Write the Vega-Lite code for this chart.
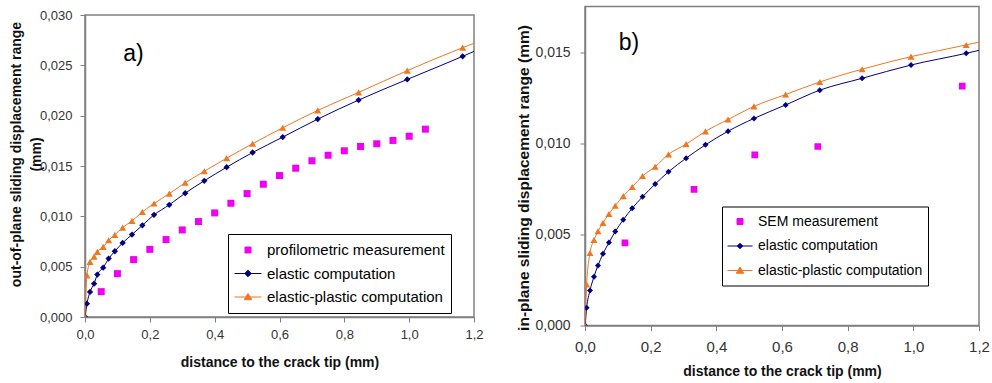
{
  "$schema": "https://vega.github.io/schema/vega-lite/v6.json",
  "background": "white",
  "padding": {"left": 8, "top": 5.5, "right": 3, "bottom": 5},
  "spacing": 111,
  "bounds": "flush",
  "center": true,
  "config": {
    "font": "Liberation Sans",
    "view": {"stroke": "#808080", "strokeWidth": 1.5},
    "axis": {
      "grid": false,
      "domainColor": "#808080",
      "domainWidth": 1.5,
      "tickColor": "#808080",
      "tickSize": 5,
      "labelColor": "#333333",
      "titleColor": "#111111",
      "labelFont": "Liberation Sans",
      "titleFont": "Liberation Sans",
      "labelFlush": false,
      "labelOverlap": false
    }
  },
  "resolve": {
    "scale": {"color": "independent"},
    "legend": {"color": "independent"}
  },
  "hconcat": [
    {
      "width": 389,
      "height": 302,
      "data": {
        "values": [
          {"series": "profilometric measurement", "x": 0.05, "y": 0.00252},
          {"series": "profilometric measurement", "x": 0.1, "y": 0.00431},
          {"series": "profilometric measurement", "x": 0.15, "y": 0.0057},
          {"series": "profilometric measurement", "x": 0.2, "y": 0.00672},
          {"series": "profilometric measurement", "x": 0.25, "y": 0.00769},
          {"series": "profilometric measurement", "x": 0.3, "y": 0.00865},
          {"series": "profilometric measurement", "x": 0.35, "y": 0.00948},
          {"series": "profilometric measurement", "x": 0.4, "y": 0.01034},
          {"series": "profilometric measurement", "x": 0.45, "y": 0.0113},
          {"series": "profilometric measurement", "x": 0.5, "y": 0.01226},
          {"series": "profilometric measurement", "x": 0.55, "y": 0.01319},
          {"series": "profilometric measurement", "x": 0.6, "y": 0.01405},
          {"series": "profilometric measurement", "x": 0.65, "y": 0.01478},
          {"series": "profilometric measurement", "x": 0.7, "y": 0.01552},
          {"series": "profilometric measurement", "x": 0.75, "y": 0.01607},
          {"series": "profilometric measurement", "x": 0.8, "y": 0.01651},
          {"series": "profilometric measurement", "x": 0.85, "y": 0.01694},
          {"series": "profilometric measurement", "x": 0.9, "y": 0.01721},
          {"series": "profilometric measurement", "x": 0.95, "y": 0.01754},
          {"series": "profilometric measurement", "x": 1.0, "y": 0.01796},
          {"series": "profilometric measurement", "x": 1.05, "y": 0.01866},
          {"series": "elastic computation", "x": 0, "y": 0},
          {"series": "elastic computation", "x": 0.006, "y": 0.00132},
          {"series": "elastic computation", "x": 0.0155, "y": 0.00249},
          {"series": "elastic computation", "x": 0.028, "y": 0.00331},
          {"series": "elastic computation", "x": 0.038, "y": 0.00421},
          {"series": "elastic computation", "x": 0.056, "y": 0.0049},
          {"series": "elastic computation", "x": 0.073, "y": 0.0058},
          {"series": "elastic computation", "x": 0.092, "y": 0.00653},
          {"series": "elastic computation", "x": 0.116, "y": 0.00736},
          {"series": "elastic computation", "x": 0.145, "y": 0.00819},
          {"series": "elastic computation", "x": 0.177, "y": 0.00911},
          {"series": "elastic computation", "x": 0.213, "y": 0.01015},
          {"series": "elastic computation", "x": 0.26, "y": 0.01114},
          {"series": "elastic computation", "x": 0.309, "y": 0.0123},
          {"series": "elastic computation", "x": 0.368, "y": 0.01353},
          {"series": "elastic computation", "x": 0.437, "y": 0.01488},
          {"series": "elastic computation", "x": 0.517, "y": 0.01634},
          {"series": "elastic computation", "x": 0.61, "y": 0.01787},
          {"series": "elastic computation", "x": 0.718, "y": 0.01966},
          {"series": "elastic computation", "x": 0.844, "y": 0.02155},
          {"series": "elastic computation", "x": 0.994, "y": 0.0236},
          {"series": "elastic computation", "x": 1.165, "y": 0.02589},
          {"series": "elastic computation", "x": 1.36, "y": 0.0287},
          {"series": "elastic-plastic computation", "x": 0, "y": 0},
          {"series": "elastic-plastic computation", "x": 0.006, "y": 0.00414},
          {"series": "elastic-plastic computation", "x": 0.0155, "y": 0.00547},
          {"series": "elastic-plastic computation", "x": 0.028, "y": 0.006},
          {"series": "elastic-plastic computation", "x": 0.038, "y": 0.00647},
          {"series": "elastic-plastic computation", "x": 0.056, "y": 0.00696},
          {"series": "elastic-plastic computation", "x": 0.073, "y": 0.00762},
          {"series": "elastic-plastic computation", "x": 0.092, "y": 0.00816},
          {"series": "elastic-plastic computation", "x": 0.116, "y": 0.00888},
          {"series": "elastic-plastic computation", "x": 0.145, "y": 0.00955},
          {"series": "elastic-plastic computation", "x": 0.177, "y": 0.01044},
          {"series": "elastic-plastic computation", "x": 0.213, "y": 0.01127},
          {"series": "elastic-plastic computation", "x": 0.26, "y": 0.01226},
          {"series": "elastic-plastic computation", "x": 0.309, "y": 0.01333},
          {"series": "elastic-plastic computation", "x": 0.368, "y": 0.01448},
          {"series": "elastic-plastic computation", "x": 0.437, "y": 0.01578},
          {"series": "elastic-plastic computation", "x": 0.517, "y": 0.01721},
          {"series": "elastic-plastic computation", "x": 0.61, "y": 0.0188},
          {"series": "elastic-plastic computation", "x": 0.718, "y": 0.02052},
          {"series": "elastic-plastic computation", "x": 0.844, "y": 0.02231},
          {"series": "elastic-plastic computation", "x": 0.994, "y": 0.02447},
          {"series": "elastic-plastic computation", "x": 1.165, "y": 0.02676},
          {"series": "elastic-plastic computation", "x": 1.36, "y": 0.0291}
        ]
      },
      "encoding": {
        "x": {
          "field": "x", "type": "quantitative",
          "scale": {"domain": [0, 1.2], "nice": false},
          "axis": {
            "values": [0, 0.2, 0.4, 0.6, 0.8, 1.0, 1.2],
            "labelExpr": "replace(format(datum.value, '.1f'), '.', ',')",
            "title": "distance to the crack tip (mm)",
            "titleFontSize": 14, "titleFontWeight": "bold",
            "labelFontSize": 13, "labelPadding": 6, "titlePadding": 14
          }
        },
        "y": {
          "field": "y", "type": "quantitative",
          "scale": {"domain": [0, 0.03], "nice": false},
          "axis": {
            "values": [0, 0.005, 0.01, 0.015, 0.02, 0.025, 0.03],
            "labelExpr": "replace(format(datum.value, '.3f'), '.', ',')",
            "title": ["out-of-plane sliding displacement range", "(mm)"],
            "titleFontSize": 14, "titleFontWeight": "bold", "titleLineHeight": 20,
            "titleAngle": 270, "titleBaseline": "bottom", "titleAlign": "center",
            "titleX": -62, "titleY": 139,
            "labelFontSize": 13, "labelPadding": 8
          }
        },
        "color": {
          "field": "series", "type": "nominal",
          "scale": {
            "domain": ["profilometric measurement", "elastic computation", "elastic-plastic computation"],
            "range": ["#f000f0", "#000080", "#ee7722"]
          },
          "legend": {
            "orient": "none", "legendX": 143, "legendY": 219,
            "title": null, "strokeColor": "black", "fillColor": "white",
            "padding": 6, "labelFontSize": 15, "labelColor": "black", "labelFont": "Liberation Sans",
            "labelLimit": 400,
            "symbolSize": 729, "clipHeight": 20, "rowPadding": 3.5, "labelOffset": 5,
            "symbolStrokeWidth": 1, "symbolOpacity": 1,
            "encode": {
              "symbols": {
                "update": {
                  "shape": {"signal": "datum.value === 'elastic computation' ? 'M-1,0H1M0,-0.24L0.24,0L0,0.24L-0.24,0Z' : datum.value === 'elastic-plastic computation' ? 'M-1,0H1M0,-0.26L0.28,0.2H-0.28Z' : 'M-0.22,-0.22H0.22V0.22H-0.22Z'"},
                  "fill": {"signal": "datum.value === 'elastic computation' ? '#000080' : datum.value === 'elastic-plastic computation' ? '#ee7722' : '#f000f0'"},
                  "stroke": {"signal": "datum.value === 'elastic computation' ? '#000080' : datum.value === 'elastic-plastic computation' ? '#ee7722' : '#f000f0'"},
                  "strokeWidth": {"value": 1},
                  "size": {"value": 729},
                  "opacity": {"value": 1}
                }
              }
            }
          }
        }
      },
      "layer": [
        {
          "transform": [{"filter": "datum.series !== 'profilometric measurement'"}],
          "mark": {"type": "line", "interpolate": "monotone", "strokeWidth": 1, "clip": true}
        },
        {
          "transform": [{"filter": "datum.series === 'profilometric measurement'"}],
          "mark": {"type": "point", "shape": "square", "size": 49, "filled": true, "opacity": 1, "clip": true}
        },
        {
          "transform": [{"filter": "datum.series === 'elastic computation'"}],
          "mark": {"type": "point", "shape": "diamond", "size": 40, "filled": true, "opacity": 1, "clip": true}
        },
        {
          "transform": [{"filter": "datum.series === 'elastic-plastic computation'"}],
          "mark": {"type": "point", "shape": "triangle-up", "size": 50, "filled": true, "opacity": 1, "clip": true}
        },
        {
          "data": {"values": [{"label": "a)", "x": 0.118, "y": 0.0254}]},
          "mark": {"type": "text", "fontSize": 23, "align": "left", "baseline": "alphabetic", "font": "Liberation Sans"},
          "encoding": {"text": {"field": "label"}, "color": {"value": "black"}}
        }
      ]
    },
    {
      "width": 394,
      "height": 319,
      "data": {
        "values": [
          {"series": "SEM measurement", "x": 0.1216, "y": 0.00453},
          {"series": "SEM measurement", "x": 0.332, "y": 0.00747},
          {"series": "SEM measurement", "x": 0.517, "y": 0.00936},
          {"series": "SEM measurement", "x": 0.709, "y": 0.00982},
          {"series": "SEM measurement", "x": 1.149, "y": 0.01313},
          {"series": "elastic computation", "x": 0, "y": 0},
          {"series": "elastic computation", "x": 0.005, "y": 0.00097},
          {"series": "elastic computation", "x": 0.0152, "y": 0.00192},
          {"series": "elastic computation", "x": 0.0274, "y": 0.00268},
          {"series": "elastic computation", "x": 0.0395, "y": 0.00329},
          {"series": "elastic computation", "x": 0.0547, "y": 0.00393},
          {"series": "elastic computation", "x": 0.073, "y": 0.00455},
          {"series": "elastic computation", "x": 0.0921, "y": 0.00515},
          {"series": "elastic computation", "x": 0.1165, "y": 0.0058},
          {"series": "elastic computation", "x": 0.1438, "y": 0.00643},
          {"series": "elastic computation", "x": 0.1753, "y": 0.00706},
          {"series": "elastic computation", "x": 0.2138, "y": 0.00776},
          {"series": "elastic computation", "x": 0.2543, "y": 0.00843},
          {"series": "elastic computation", "x": 0.308, "y": 0.00918},
          {"series": "elastic computation", "x": 0.3668, "y": 0.00991},
          {"series": "elastic computation", "x": 0.4357, "y": 0.01066},
          {"series": "elastic computation", "x": 0.5147, "y": 0.01136},
          {"series": "elastic computation", "x": 0.611, "y": 0.0121},
          {"series": "elastic computation", "x": 0.715, "y": 0.01291},
          {"series": "elastic computation", "x": 0.844, "y": 0.01356},
          {"series": "elastic computation", "x": 0.993, "y": 0.01429},
          {"series": "elastic computation", "x": 1.161, "y": 0.01493},
          {"series": "elastic computation", "x": 1.36, "y": 0.0158},
          {"series": "elastic-plastic computation", "x": 0, "y": 0},
          {"series": "elastic-plastic computation", "x": 0.005, "y": 0.00225},
          {"series": "elastic-plastic computation", "x": 0.0152, "y": 0.00398},
          {"series": "elastic-plastic computation", "x": 0.0274, "y": 0.00469},
          {"series": "elastic-plastic computation", "x": 0.0395, "y": 0.00517},
          {"series": "elastic-plastic computation", "x": 0.0547, "y": 0.00562},
          {"series": "elastic-plastic computation", "x": 0.073, "y": 0.00612},
          {"series": "elastic-plastic computation", "x": 0.0921, "y": 0.00657},
          {"series": "elastic-plastic computation", "x": 0.1165, "y": 0.0071},
          {"series": "elastic-plastic computation", "x": 0.1438, "y": 0.0076},
          {"series": "elastic-plastic computation", "x": 0.1753, "y": 0.0082},
          {"series": "elastic-plastic computation", "x": 0.2138, "y": 0.00871},
          {"series": "elastic-plastic computation", "x": 0.2543, "y": 0.00939},
          {"series": "elastic-plastic computation", "x": 0.308, "y": 0.00995},
          {"series": "elastic-plastic computation", "x": 0.3668, "y": 0.01065},
          {"series": "elastic-plastic computation", "x": 0.4357, "y": 0.0113},
          {"series": "elastic-plastic computation", "x": 0.5147, "y": 0.01202},
          {"series": "elastic-plastic computation", "x": 0.611, "y": 0.01267},
          {"series": "elastic-plastic computation", "x": 0.715, "y": 0.01336},
          {"series": "elastic-plastic computation", "x": 0.844, "y": 0.01406},
          {"series": "elastic-plastic computation", "x": 0.993, "y": 0.01475},
          {"series": "elastic-plastic computation", "x": 1.161, "y": 0.01539},
          {"series": "elastic-plastic computation", "x": 1.36, "y": 0.0162}
        ]
      },
      "encoding": {
        "x": {
          "field": "x", "type": "quantitative",
          "scale": {"domain": [0, 1.2], "nice": false},
          "axis": {
            "values": [0, 0.2, 0.4, 0.6, 0.8, 1.0, 1.2],
            "labelExpr": "replace(format(datum.value, '.1f'), '.', ',')",
            "title": "distance to the crack tip (mm)",
            "titleFontSize": 14, "titleFontWeight": "bold",
            "labelFontSize": 15, "labelPadding": 9, "titlePadding": 10
          }
        },
        "y": {
          "field": "y", "type": "quantitative",
          "scale": {"domain": [0, 0.0175], "nice": false},
          "axis": {
            "values": [0, 0.005, 0.01, 0.015],
            "labelExpr": "replace(format(datum.value, '.3f'), '.', ',')",
            "title": "in-plane sliding displacement range (mm)",
            "titleFontSize": 15.5, "titleFontWeight": "bold",
            "titleAngle": 270, "titleBaseline": "bottom", "titleAlign": "center",
            "titleX": -54, "titleY": 171,
            "labelFontSize": 14, "labelPadding": 10
          }
        },
        "color": {
          "field": "series", "type": "nominal",
          "scale": {
            "domain": ["SEM measurement", "elastic computation", "elastic-plastic computation"],
            "range": ["#f000f0", "#000080", "#ee7722"]
          },
          "legend": {
            "orient": "none", "legendX": 137, "legendY": 200,
            "title": null, "strokeColor": "black", "fillColor": "white",
            "padding": 5, "labelFontSize": 14, "labelColor": "black", "labelFont": "Liberation Sans",
            "labelLimit": 400,
            "symbolSize": 625, "clipHeight": 20, "rowPadding": 4.5, "labelOffset": 5,
            "symbolStrokeWidth": 1, "symbolOpacity": 1,
            "encode": {
              "symbols": {
                "update": {
                  "shape": {"signal": "datum.value === 'elastic computation' ? 'M-1,0H1M0,-0.22L0.22,0L0,0.22L-0.22,0Z' : datum.value === 'elastic-plastic computation' ? 'M-1,0H1M0,-0.28L0.3,0.22H-0.3Z' : 'M-0.24,-0.24H0.24V0.24H-0.24Z'"},
                  "fill": {"signal": "datum.value === 'elastic computation' ? '#000080' : datum.value === 'elastic-plastic computation' ? '#ee7722' : '#f000f0'"},
                  "stroke": {"signal": "datum.value === 'elastic computation' ? '#000080' : datum.value === 'elastic-plastic computation' ? '#ee7722' : '#f000f0'"},
                  "strokeWidth": {"value": 1},
                  "size": {"value": 625},
                  "opacity": {"value": 1}
                }
              }
            }
          }
        }
      },
      "layer": [
        {
          "transform": [{"filter": "datum.series !== 'SEM measurement'"}],
          "mark": {"type": "line", "interpolate": "monotone", "strokeWidth": 1, "clip": true}
        },
        {
          "transform": [{"filter": "datum.series === 'SEM measurement'"}],
          "mark": {"type": "point", "shape": "square", "size": 45, "filled": true, "opacity": 1, "clip": true}
        },
        {
          "transform": [{"filter": "datum.series === 'elastic computation'"}],
          "mark": {"type": "point", "shape": "diamond", "size": 36, "filled": true, "opacity": 1, "clip": true}
        },
        {
          "transform": [{"filter": "datum.series === 'elastic-plastic computation'"}],
          "mark": {"type": "point", "shape": "triangle-up", "size": 50, "filled": true, "opacity": 1, "clip": true}
        },
        {
          "data": {"values": [{"label": "b)", "x": 0.103, "y": 0.01514}]},
          "mark": {"type": "text", "fontSize": 23, "align": "left", "baseline": "alphabetic", "font": "Liberation Sans"},
          "encoding": {"text": {"field": "label"}, "color": {"value": "black"}}
        }
      ]
    }
  ]
}
